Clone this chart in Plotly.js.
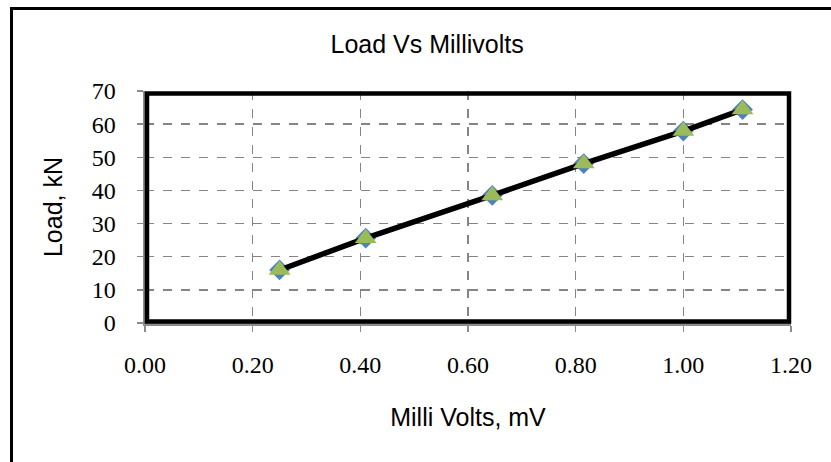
<!DOCTYPE html>
<html>
<head>
<meta charset="utf-8">
<script src="https://cdn.plot.ly/plotly-3.0.1.min.js"></script>
<style>
  html, body { margin: 0; padding: 0; background: #fff; overflow: hidden; }
  #chart { position: absolute; left: 0; top: 0; width: 831px; height: 462px; }
  #frame { position: absolute; left: 10px; top: 7px; width: 900px; height: 600px;
           border-left: 3px solid #000; border-top: 3px solid #000; pointer-events: none; }
</style>
</head>
<body>
<div id="chart"></div>
<div id="frame"></div>
<script>
const milliVolts = [0.25, 0.41, 0.645, 0.815, 1.0, 1.11];
const loadKN = [16.0, 25.6, 38.5, 48.1, 57.9, 64.4];
const xTicks = [0, 0.2, 0.4, 0.6, 0.8, 1.0, 1.2];
const yTicks = [0, 10, 20, 30, 40, 50, 60, 70];

const traces = [
  { x: milliVolts, y: loadKN, mode: 'markers', type: 'scatter',
    marker: { symbol: 'diamond', size: 16, color: '#4F81BD' }, hoverinfo: 'none' },
  { x: milliVolts, y: loadKN, mode: 'lines', type: 'scatter',
    line: { color: '#000', width: 5.5 }, hoverinfo: 'none' },
  { x: milliVolts, y: loadKN, mode: 'markers', type: 'scatter',
    marker: { symbol: 'triangle-up', size: 19, color: '#9BBB59' }, hoverinfo: 'none' }
];

const W = 646, H = 232;
const layout = {
  width: 831, height: 462,
  margin: { l: 145, r: 40, t: 91, b: 139 },
  paper_bgcolor: '#fff', plot_bgcolor: '#fff',
  showlegend: false,
  title: { text: 'Load Vs Millivolts', font: { family: 'Liberation Sans, Arial', size: 25, color: '#000' },
           xref: 'container', yref: 'container', x: 0.514, y: 0.905, xanchor: 'center', yanchor: 'middle' },
  xaxis: {
    range: [0, 1.2], tickvals: xTicks, tickformat: '.2f',
    showgrid: true, gridcolor: '#858585', griddash: 'dash', gridwidth: 1.5,
    zeroline: false, showline: true, linecolor: '#8c8c8c', linewidth: 2.5,
    ticks: 'outside', ticklen: 6, tickcolor: '#8c8c8c', tickwidth: 1.5,
    ticklabelstandoff: 13,
    tickfont: { family: 'Liberation Serif, Times New Roman', size: 24, color: '#000' },
    title: { text: 'Milli Volts, mV', standoff: 31,
             font: { family: 'Liberation Sans, Arial', size: 25, color: '#000' } }
  },
  yaxis: {
    range: [0, 70], tickvals: yTicks,
    showgrid: true, gridcolor: '#858585', griddash: 'dash', gridwidth: 1.5,
    zeroline: false, showline: true, linecolor: '#8c8c8c', linewidth: 2.5,
    ticks: 'outside', ticklen: 6, tickcolor: '#8c8c8c', tickwidth: 1.5,
    ticklabelstandoff: 16,
    tickfont: { family: 'Liberation Serif, Times New Roman', size: 24, color: '#000' },
    title: { text: 'Load, kN', standoff: 22,
             font: { family: 'Liberation Sans, Arial', size: 25, color: '#000' } }
  },
  shapes: [
    { type: 'rect', xref: 'paper', yref: 'paper', layer: 'above',
      x0: 2 / W, x1: 1 - 2 / W, y0: 1.5 / H, y1: 1 - 2.5 / H,
      line: { color: '#000', width: 4.5 } }
  ]
};

Plotly.newPlot('chart', traces, layout, { staticPlot: true, displayModeBar: false });
</script>
</body>
</html>
